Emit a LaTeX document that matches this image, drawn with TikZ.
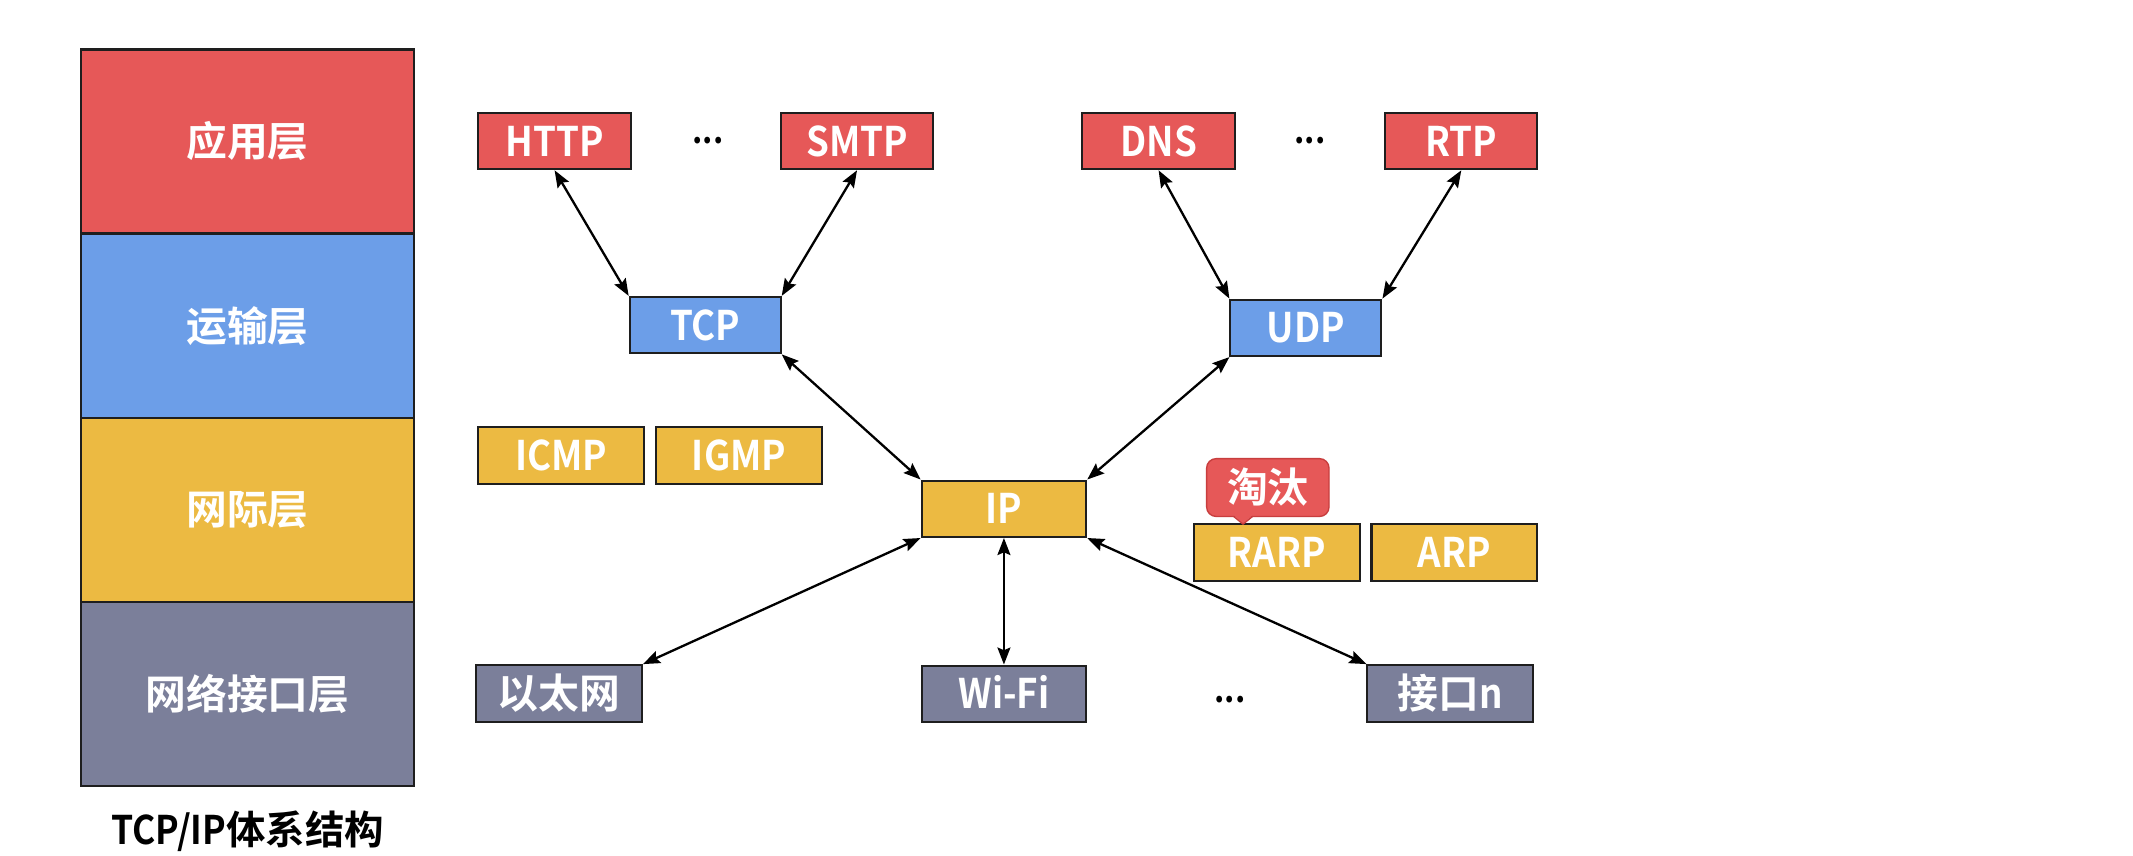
\documentclass[tikz,border=0pt]{standalone}
\usepackage{fontspec}
\usetikzlibrary{arrows.meta}
\newfontfamily\cjkb{Noto Sans CJK SC Bold}
\newfontfamily\latb{Noto Sans CJK SC Bold}[FakeStretch=0.9]
\definecolor{lred}{RGB}{230,88,88}
\definecolor{lblue}{RGB}{108,158,232}
\definecolor{lyel}{RGB}{236,186,66}
\definecolor{lgray}{RGB}{123,127,154}
\definecolor{bdr}{RGB}{30,30,30}
\definecolor{ttbdr}{RGB}{200,62,62}
\tikzset{
  layer/.style={draw=bdr, line width=1.8pt, minimum width=245pt, minimum height=135.4pt,
    inner sep=0pt, text=white, font=\cjkb\fontsize{30}{30}\selectfont},
  box/.style={draw=bdr, line width=1.5pt, minimum height=41.5pt, inner sep=0pt,
    text=white, text height=22pt, text depth=0pt, font=\latb\fontsize{30}{30}\selectfont},
  redbox/.style={box, fill=lred, minimum width=112pt},
  bluebox/.style={box, fill=lblue, minimum width=111pt},
  yelbox/.style={box, fill=lyel, minimum width=122pt},
  graybox/.style={box, fill=lgray, minimum width=122pt},
  dots/.style={inner sep=0pt, text=black, font=\latb\fontsize{26}{26}\selectfont},
  conn/.style={draw=black, line width=1.7pt,
    {Stealth[length=12.5pt,width=9.5pt,inset=2pt]}-{Stealth[length=12.5pt,width=9.5pt,inset=2pt]}},
}
\begin{document}
\begin{tikzpicture}[x=1pt,y=-1pt]
\useasboundingbox (0,0) rectangle (1568,629);
\fill[white] (0,0) rectangle (1568,629);

% layer column
\node[layer, fill=lred]  (L1) at (182,104.0) {应用层};
\node[layer, fill=lblue] (L2) at (182,239.4) {运输层};
\node[layer, fill=lyel]  (L3) at (182,374.8) {网际层};
\node[layer, fill=lgray] (L4) at (182,510.2) {网络接口层};
\node[inner sep=0pt, text=black] (cap) at (182,611)
  {\fontsize{29}{29}\selectfont{\latb TCP/IP}{\cjkb 体系结构}};

% application layer
\node[redbox] (http) at (407.7,103.7) {HTTP};
\node[dots]   (d1)   at (520.5,103)  {...};
\node[redbox] (smtp) at (630,103.7)  {SMTP};
\node[redbox] (dns)  at (851.7,103.7) {DNS};
\node[dots]   (d2)   at (963,103)    {...};
\node[redbox] (rtp)  at (1074.2,103.7) {RTP};

% transport layer
\node[bluebox] (tcp) at (518.4,239) {TCP};
\node[bluebox] (udp) at (960,241)   {UDP};

% internet layer
\node[yelbox] (icmp) at (412.5,334.7) {ICMP};
\node[yelbox] (igmp) at (543.3,334.7) {IGMP};
\node[yelbox, minimum width=121pt] (ip) at (738,374) {IP};
\node[yelbox] (rarp) at (938.5,406.2) {RARP};
\node[yelbox] (arp)  at (1069.2,406.2) {ARP};

% callout
\node[fill=lred, draw=ttbdr, line width=1pt, rounded corners=7pt, minimum width=90pt,
  minimum height=42.5pt, inner sep=0pt, text=white, text height=22pt, text depth=0pt,
  font=\cjkb\fontsize{30}{30}\selectfont] (tt) at (932,358.4) {淘汰};
\coordinate (ttip) at (913.8,385.3);
\fill[lred] (ttip) -- (906.8,378.6) -- (920.8,378.6) -- cycle;
\draw[ttbdr, line width=1pt] (906.8,379.6) -- (ttip) -- (920.8,379.6);

% network interface layer
\node[graybox] (eth)  at (410.9,509.7) {\cjkb 以太网};
\node[graybox, minimum width=121pt] (wifi) at (738,510) {Wi-Fi};
\node[dots]    (d3)   at (904.2,514.6) {...};
\node[graybox] (ifn)  at (1066.2,509.7) {{\cjkb 接口}n};

% connectors
\draw[conn] (http.south) -- (tcp.north west);
\draw[conn] (smtp.south) -- (tcp.north east);
\draw[conn] (dns.south)  -- (udp.north west);
\draw[conn] (rtp.south)  -- (udp.north east);
\draw[conn] (tcp.south east) -- (ip.north west);
\draw[conn] (udp.south west) -- (ip.north east);
\draw[conn] (ip.south west) -- (eth.north east);
\draw[conn] (ip.south) -- (wifi.north);
\draw[conn] (ip.south east) -- (ifn.north west);
\end{tikzpicture}
\end{document}
